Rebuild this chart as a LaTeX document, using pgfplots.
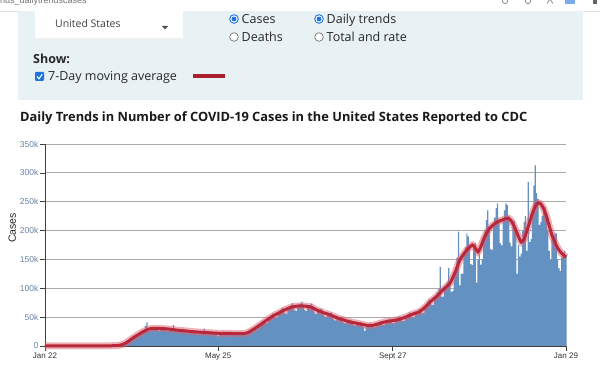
\documentclass[border=0pt]{standalone}
\usepackage{pgfplots}
\pgfplotsset{compat=1.18}
\usepackage{graphicx}
\usepackage{fontspec}
\setmainfont{Open Sans}
\newfontfamily\arial{Liberation Sans}
\definecolor{panel}{RGB}{232,241,244}
\definecolor{barblue}{RGB}{98,145,194}
\definecolor{avgred}{RGB}{185,40,58}
\definecolor{halored}{RGB}{220,100,115}
\definecolor{legred}{RGB}{168,32,46}
\definecolor{radioblue}{RGB}{30,115,225}
\definecolor{ytickc}{RGB}{105,130,165}
\definecolor{gridc}{RGB}{170,170,170}
\definecolor{txt}{RGB}{40,40,40}
\begin{document}
\begin{tikzpicture}[x=1pt,y=1pt]
\path[use as bounding box, fill=white] (0,0) rectangle (600,375);
% browser strip
\begin{scope}
\clip (0,365) rectangle (600,375);
\node[anchor=base west, inner sep=0, text=black!55, font=\arial\fontsize{9}{10}\selectfont] at (0,371.5) {nus\_dailytrendscases};
\draw[black!45, line width=0.8pt] (505,374) circle (2.6);
\draw[black!45, line width=0.8pt] (528,374) circle (2.6);
\draw[black!45, line width=0.8pt] (547,371.5) -- (550,376) -- (553,371.5);
\fill[radioblue!60] (565,371) rectangle (575,376);
\fill[black!60] (593,371) rectangle (597,376);
\end{scope}
\draw[gray!25] (0,364) -- (600,364);
% control panel
\fill[panel] (18,275) rectangle (583,364);
\fill[white] (35,337) rectangle (183,364);
\draw[gray!12] (35,337) -- (183,337) -- (183,364);
\node[anchor=base west, inner sep=0, text=black!75, font=\fontsize{10.5}{12}\selectfont] at (55,347.5) {United States};
\fill[black!70] (162,349) -- (168,349) -- (165,345.5) -- cycle;
% radios
\draw[radioblue, line width=0.9pt, fill=white] (234,356) circle (4.3);
\fill[radioblue] (234,356) circle (2.4);
\draw[black!55, line width=0.7pt, fill=white] (234,338) circle (4.3);
\draw[radioblue, line width=0.9pt, fill=white] (319,356) circle (4.3);
\fill[radioblue] (319,356) circle (2.4);
\draw[black!55, line width=0.7pt, fill=white] (319,338) circle (4.3);
\begin{scope}[every node/.style={anchor=base west, inner sep=0, text=txt, font=\fontsize{12.5}{14}\selectfont}]
\node at (241.5,351.5) {Cases};
\node at (241.5,333.5) {Deaths};
\node at (326.5,351.5) {Daily trends};
\node at (326.5,333.5) {Total and rate};
\node at (33,311.5) {\bfseries Show:};
\node at (48,294) {7-Day moving average};
\end{scope}
\fill[radioblue, rounded corners=1pt] (35,294) rectangle (44,303);
\draw[white, line width=1.1pt] (37,298.5) -- (39,296.2) -- (42.2,300.8);
\fill[legred] (193,296.8) rectangle (225,300.6);
% title
\node[anchor=base west, inner sep=0, text=black!90] at (20,253.5) {\resizebox{507pt}{!}{\bfseries Daily Trends in Number of COVID-19 Cases in the United States Reported to CDC}};
% chart
\begin{axis}[
  at={(45pt,29pt)}, anchor=south west, scale only axis,
  width=521pt, height=202pt,
  xmin=0, xmax=373, ymin=0, ymax=350,
  clip=false,
  axis lines=left, axis line style={-, draw=black!75, line width=0.8pt},
  ytick={0,50,100,150,200,250,300,350},
  yticklabels={0,50k,100k,150k,200k,250k,300k,350k},
  xtick={0,124,249,373},
  xticklabels={Jan 22,May 25,Sept 27,Jan 29},
  tick align=outside, major tick length=5pt,
  tick style={draw=black!75, line width=0.7pt},
  ymajorgrids, grid style={draw=gridc, line width=0.8pt},
  yticklabel style={font=\arial\fontsize{8.5}{10}\selectfont, text=ytickc, inner sep=1.5pt},
  xticklabel style={font=\arial\fontsize{8}{10}\selectfont, text=black!80, inner sep=2pt},
  ylabel={Cases},
  ylabel style={font=\arial\fontsize{10.5}{12}\selectfont, text=black!85, at={(axis description cs:-0.063,0.584)}, anchor=center},
]
\addplot[ybar, bar width=1.15pt, fill=barblue, draw=none] coordinates {
(0,0)(1,0)(2,0)(3,0)(4,0)(5,0)(6,0)(7,0)(8,0)(9,0)
(10,0)(11,0)(12,0)(13,0)(14,0)(15,0)(16,0)(17,0)(18,0)(19,0)
(20,0)(21,0)(22,0)(23,0)(24,0)(25,0)(26,0)(27,0)(28,0)(29,0)
(30,0)(31,0)(32,0)(33,0)(34,0)(35,0)(36,0)(37,0)(38,0)(39,0)
(40,0.1)(41,0.2)(42,0.2)(43,0.3)(44,0.3)(45,0.3)(46,0.4)(47,0.5)(48,0.5)(49,0.6)
(50,0.6)(51,0.9)(52,1.0)(53,1.1)(54,1.6)(55,2.4)(56,3.1)(57,4.6)(58,6.3)(59,7.2)
(60,7.9)(61,9.2)(62,12.4)(63,14.3)(64,16.4)(65,18.7)(66,19.1)(67,18)(68,18.9)(69,23.2)
(70,25)(71,27.1)(72,35)(73,41)(74,26.1)(75,26)(76,30.3)(77,31.1)(78,32.3)(79,33.6)
(80,31.4)(81,27.5)(82,26.8)(83,30.5)(84,30.7)(85,31.7)(86,32.8)(87,30.5)(88,26.6)(89,25.7)
(90,29.2)(91,29.1)(92,36)(93,30.7)(94,28.4)(95,24.7)(96,23.9)(97,27.3)(98,27.2)(99,28.1)
(100,28.9)(101,26.8)(102,23.2)(103,22.4)(104,25.6)(105,25.5)(106,26.3)(107,27.2)(108,25.2)(109,21.9)
(110,21.2)(111,24.1)(112,24.3)(113,25)(114,30)(115,24.1)(116,20.9)(117,20.3)(118,23.2)(119,23.3)
(120,24)(121,24.6)(122,23)(123,19.9)(124,16.5)(125,22.2)(126,22.3)(127,23.2)(128,24.1)(129,22.5)
(130,19.6)(131,19.2)(132,21.9)(133,22.1)(134,23)(135,23.8)(136,22.2)(137,19.4)(138,18.9)(139,21.7)
(140,21.9)(141,22.8)(142,23.7)(143,22.7)(144,20.3)(145,20.2)(146,24.6)(147,26.3)(148,28.8)(149,31.5)
(150,30.9)(151,28.5)(152,29.3)(153,35.4)(154,37.4)(155,40.6)(156,44)(157,43)(158,39.2)(159,39.9)
(160,47.5)(161,49.5)(162,53)(163,56.7)(164,54.6)(165,48.9)(166,48.8)(167,57.4)(168,59.2)(169,62.9)
(170,66.6)(171,63.7)(172,56.7)(173,56.3)(174,65.7)(175,67.3)(176,71)(177,74.3)(178,70)(179,61.7)
(180,60.7)(181,69.8)(182,70.7)(183,73.6)(184,76.5)(185,71.4)(186,62.1)(187,60.5)(188,69.2)(189,69.4)
(190,71.6)(191,73.7)(192,67.7)(193,57.9)(194,55.4)(195,62.6)(196,62.2)(197,63.6)(198,64.9)(199,59.7)
(200,51.3)(201,49.5)(202,56.3)(203,56.1)(204,57.2)(205,58.3)(206,53.6)(207,45.9)(208,44)(209,49.5)
(210,49)(211,50.1)(212,51.2)(213,47.2)(214,40.5)(215,39)(216,43.9)(217,43.7)(218,44.5)(219,45.7)
(220,42.2)(221,36.5)(222,35.2)(223,39.9)(224,39.8)(225,40.8)(226,41.8)(227,38.6)(228,33.3)(229,26)
(230,33)(231,36.6)(232,37.9)(233,39.2)(234,36.6)(235,32.5)(236,32.4)(237,37.8)(238,38.8)(239,41.1)
(240,43.5)(241,41.5)(242,36.9)(243,36.5)(244,42.4)(245,43.4)(246,45.6)(247,47.6)(248,45)(249,39.6)
(250,39.2)(251,45.5)(252,46.4)(253,48.8)(254,51.5)(255,48.9)(256,43.5)(257,43.1)(258,50.5)(259,52)
(260,55.1)(261,58.3)(262,55.6)(263,49.5)(264,49.3)(265,57.6)(266,58.9)(267,61.8)(268,64.9)(269,62.8)
(270,56.7)(271,57.2)(272,67.7)(273,70.9)(274,76.3)(275,82)(276,79.3)(277,71.1)(278,71.3)(279,83.8)
(280,86.7)(281,92.8)(282,99)(283,137)(284,85.5)(285,85.6)(286,100.7)(287,104)(288,110.6)(289,135)
(290,112.3)(291,93.7)(292,95.6)(293,126)(294,136.5)(295,152.7)(296,198)(297,105)(298,125.2)(299,125)
(300,161.6)(301,171)(302,195)(303,190)(304,174.4)(305,141.9)(306,140)(307,174.2)(308,178.5)(309,110)
(310,150)(311,160)(312,141)(313,150)(314,186.9)(315,199.5)(316,218.4)(317,234.8)(318,207)(319,168.5)
(320,166.4)(321,212.1)(322,222.6)(323,239)(324,247)(325,220.3)(326,178)(327,174.4)(328,221.2)(329,235)
(330,247)(331,244)(332,225.4)(333,179.2)(334,172.8)(335,213.6)(336,217.4)(337,200)(338,125)(339,175)
(340,155)(341,160)(342,200)(343,215)(344,225)(345,165)(346,284)(347,180)(348,185)(349,232)
(350,278)(351,313)(352,265)(353,255)(354,210)(355,215)(356,225)(357,235)(358,240)(359,230)
(360,200)(361,165)(362,150)(363,185)(364,190)(365,195)(366,195)(367,150)(368,135)(369,130)
(370,155)(371,160)(372,165)(373,158)
};
\pgfplotstableread{
d s
0 0
40 0.1
50 0.6
53 1.2
56 3
59 7
63 14
67 20
70 24.5
74 29
77 30.5
81 30.5
88 29.5
94 27.6
99 26.5
105 25
113 23.6
124 22
130 21.8
138 21.5
142 21.5
145 23
150 30
153 35
156 40
160 47
164 53
168 58
172 63
176 67
180 69
184 69.5
188 68.5
191 67
194 63
197 60
200 57
203 55
206 52
210 48
214 45
218 42
222 40
226 38
230 36
234 35.5
238 38
242 41
246 43
249 44
253 46
257 49
261 53
265 57
268 59
272 67
276 77
280 85
284 95
287 102
290 109
294 130
297 149
300 160
303 169
306 175
308 170
310 163
312 172
314 185
316 195
318 203
320 208
322 212
324 215
327 218
330 221
332 221
334 216
336 207
338 195
340 184
341 180
343 185
345 200
347 215
349 230
351 242
353 248
355 246
357 238
359 225
361 208
363 192
365 180
367 170
369 163
371 158
373 154
}\avgtable
\addplot[halored, opacity=0.5, line width=7pt, smooth, tension=0.4] table[x=d, y=s] {\avgtable};
\addplot[avgred, line width=3pt, smooth, tension=0.4] table[x=d, y=s] {\avgtable};
\end{axis}
\end{tikzpicture}
\end{document}
